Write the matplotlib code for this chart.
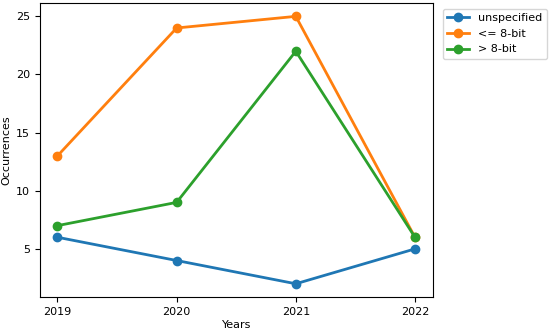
import matplotlib
matplotlib.use('Agg')
import matplotlib.pyplot as plt

plt.rcParams['font.size'] = 8

years = [2019, 2020, 2021, 2022]
unspecified = [6, 4, 2, 5]
le_8bit = [13, 24, 25, 6]
gt_8bit = [7, 9, 22, 6]

fig = plt.figure(figsize=(5.5, 3.32), dpi=100)
ax = fig.add_axes([0.072, 0.105, 0.715, 0.886])

ax.plot(years, unspecified, marker='o', linewidth=2, label='unspecified')
ax.plot(years, le_8bit, marker='o', linewidth=2, label='<= 8-bit')
ax.plot(years, gt_8bit, marker='o', linewidth=2, label='> 8-bit')

ax.set_xticks(years)
ax.set_xticklabels([str(y) for y in years])
ax.set_xlabel('Years', labelpad=2)
ax.set_ylabel('Occurrences', labelpad=3)

ax.legend(loc='upper left', bbox_to_anchor=(1.025, 0.98), borderaxespad=0)

fig.savefig('out.png', dpi=100)
